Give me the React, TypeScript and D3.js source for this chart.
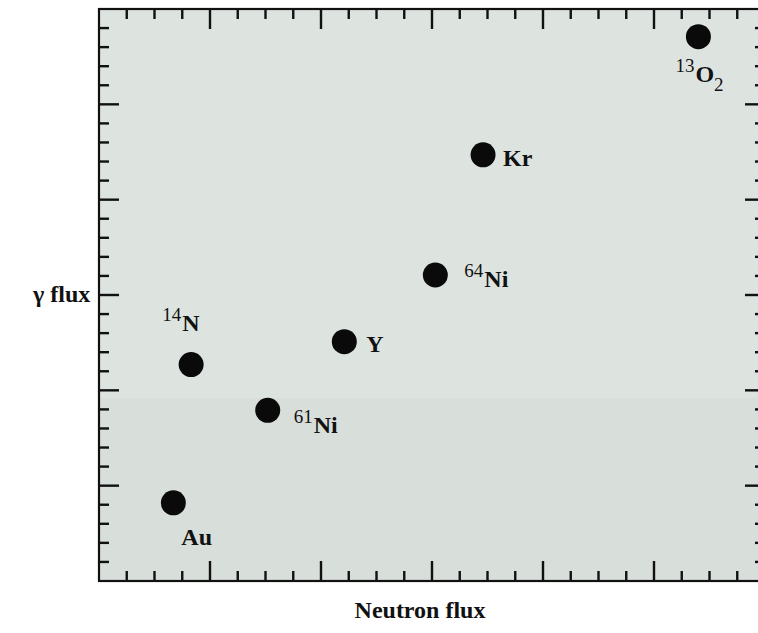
import React from 'react';
import * as d3 from 'd3';

// ---- Data (arbitrary units) ----
const labelMass = ['', '14', '61', '', '64', '', '13'];
const labelSymbol = ['Au', 'N', 'Ni', 'Y', 'Ni', 'Kr', 'O'];
const labelSub = ['', '', '', '', '', '', '2'];
const neutronFlux = [0.67, 0.83, 1.52, 2.21, 3.03, 3.46, 5.4];
const gammaFlux = [0.82, 2.27, 1.79, 2.51, 3.21, 4.47, 5.71];
const xMajorTicks = [0, 1, 2, 3, 4, 5, 6];
const yMajorTicks = [0, 1, 2, 3, 4, 5, 6];
const xAxisTitle = 'Neutron flux';
const yAxisTitle = 'γ flux';

// ---- Styling / layout ----
const W = 758;
const H = 633;
const frame = { left: 99, right: 765, top: 9, bottom: 581 };
const labelOffsets: [number, number][] = [
  [8, 42],
  [-29, -34],
  [26, 23],
  [22, 10],
  [29, 12],
  [20, 11],
  [-23, 45],
];
const FONT = '"Liberation Serif", "Times New Roman", serif';

export default function App() {
  const x = d3.scaleLinear().domain([0, 6]).range([frame.left, frame.right]);
  const y = d3.scaleLinear().domain([0, 6]).range([frame.bottom, frame.top]);

  const xMinor = d3.range(0, 6.001, 0.25).filter((v) => Math.abs(v - Math.round(v)) > 1e-6);
  const yMinor = d3.range(0, 6.001, 0.2).filter((v) => Math.abs(v - Math.round(v)) > 1e-6);
  const majLen = 20;
  const minLen = 10;
  const tickStroke = 2.4;

  const ticks: JSX.Element[] = [];
  const addX = (v: number, len: number, key: string) => {
    const px = x(v);
    ticks.push(<line key={key + 'b'} x1={px} x2={px} y1={frame.bottom} y2={frame.bottom - len} />);
    ticks.push(<line key={key + 't'} x1={px} x2={px} y1={frame.top} y2={frame.top + len} />);
  };
  const addY = (v: number, len: number, key: string) => {
    const py = y(v);
    ticks.push(<line key={key + 'l'} x1={frame.left} x2={frame.left + len} y1={py} y2={py} />);
    ticks.push(<line key={key + 'r'} x1={frame.right} x2={frame.right - len} y1={py} y2={py} />);
  };
  xMajorTicks.slice(1, -1).forEach((v, i) => addX(v, majLen, 'xM' + i));
  xMinor.forEach((v, i) => addX(v, minLen, 'xm' + i));
  yMajorTicks.slice(1, -1).forEach((v, i) => addY(v, majLen, 'yM' + i));
  yMinor.forEach((v, i) => addY(v, minLen, 'ym' + i));

  return (
    <svg
      width={W}
      height={H}
      style={{ position: 'absolute', left: 0, top: 0, background: '#ffffff' }}
      fontFamily={FONT}
    >
      <rect
        x={frame.left}
        y={frame.top}
        width={frame.right - frame.left}
        height={frame.bottom - frame.top}
        fill="#dde4e0"
      />
      <rect
        x={frame.left}
        y={398}
        width={frame.right - frame.left}
        height={frame.bottom - 398}
        fill="#d8deda"
      />
      <g stroke="#111" strokeWidth={tickStroke}>{ticks}</g>
      <rect
        x={frame.left}
        y={frame.top}
        width={frame.right - frame.left}
        height={frame.bottom - frame.top}
        fill="none"
        stroke="#111"
        strokeWidth={2.2}
      />
      {neutronFlux.map((v, i) => {
        const cx = x(v);
        const cy = y(gammaFlux[i]);
        const [dx, dy] = labelOffsets[i];
        return (
          <g key={'p' + i}>
            <circle cx={cx} cy={cy} r={12.5} fill="#0a0a0a" />
            <text x={cx + dx} y={cy + dy} fontSize={24} fontWeight="bold" fill="#111">
              {labelMass[i] ? (
                <tspan fontSize={19} fontWeight="normal" dy={-10}>
                  {labelMass[i]}
                </tspan>
              ) : null}
              <tspan dy={labelMass[i] ? 10 : 0} dx={labelMass[i] ? 1 : 0}>
                {labelSymbol[i]}
              </tspan>
              {labelSub[i] ? (
                <tspan fontSize={19} fontWeight="normal" dy={9}>
                  {labelSub[i]}
                </tspan>
              ) : null}
            </text>
          </g>
        );
      })}
      <text x={420} y={618} fontSize={24} fontWeight="bold" textAnchor="middle" fill="#111">
        {xAxisTitle}
      </text>
      <text x={33} y={302} fontSize={24} fontWeight="bold" fill="#111">
        {yAxisTitle}
      </text>
    </svg>
  );
}
